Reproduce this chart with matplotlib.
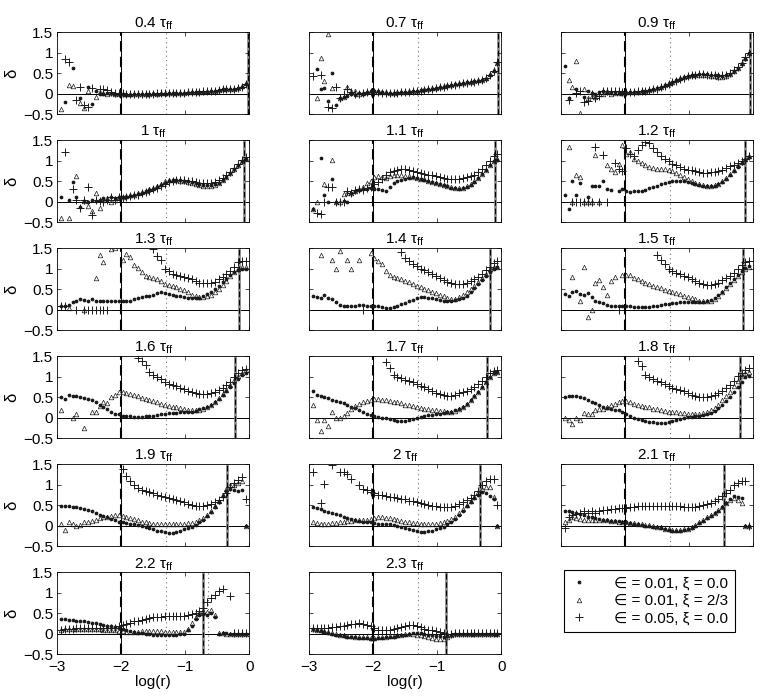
import numpy as np
import matplotlib
matplotlib.use("Agg")
import matplotlib.pyplot as plt
from matplotlib.lines import Line2D

plt.rcParams['font.family'] = ['Liberation Sans', 'DejaVu Sans']
plt.rcParams['mathtext.fontset'] = 'custom'
plt.rcParams['mathtext.rm'] = 'Liberation Sans'

n = np.nan

# log(r) grid of the profiles
LOG_R = [-2.94, -2.88, -2.82, -2.76, -2.70, -2.64, -2.58, -2.52, -2.46, -2.40, -2.34, -2.28, -2.22, -2.16, -2.10, -2.04,
         -1.98, -1.92, -1.86, -1.80, -1.74, -1.68, -1.62, -1.56, -1.50, -1.44, -1.38, -1.32, -1.26, -1.20, -1.14, -1.08,
         -1.02, -0.96, -0.90, -0.84, -0.78, -0.72, -0.66, -0.60, -0.54, -0.48, -0.42, -0.36, -0.30, -0.24, -0.18, -0.12, -0.06]

TIMES = ['0.4', '0.7', '0.9', '1', '1.1', '1.2', '1.3', '1.4', '1.5',
         '1.6', '1.7', '1.8', '1.9', '2', '2.1', '2.2', '2.3']

# position of the outer (grey) marker line in each panel
R_EDGE = [-0.03, -0.05, -0.05, -0.08, -0.10, -0.12, -0.16, -0.18, -0.15,
          -0.22, -0.22, -0.20, -0.35, -0.33, -0.45, -0.73, -0.86]
R_DOT2 = -0.65   # extra dotted line of the 2.2 panel

LABELS = ['\u2208 = 0.01, \u03be = 0.0', '\u2208 = 0.01, \u03be = 2/3', '\u2208 = 0.05, \u03be = 0.0']

# ---- 0.4 tff
DOT_04 = [n, -0.20, n, 0.62, n, -0.12, n, 0.15, -0.25, 0.05, 0.00, -0.02, 0.02, 0.01, 0.00, 0.00,
          -0.02, -0.03, -0.03, -0.02, -0.02, -0.01, -0.01, 0.00, 0.00, 0.00, 0.00, 0.00, 0.01, 0.01, 0.01, 0.01,
          0.02, 0.02, 0.03, 0.03, 0.03, 0.04, 0.04, 0.05, 0.06, 0.08, 0.10, 0.10, 0.10, 0.11, 0.13, 0.17, 0.24]
TRI_04 = [-0.38, n, 0.20, 0.18, n, -0.22, -0.35, 0.06, n, -0.08, 0.04, 0.01, 0.00, 0.02, 0.00, -0.01,
          0.00, -0.02, -0.02, -0.01, -0.01, 0.00, 0.00, 0.00, 0.01, 0.00, 0.01, 0.01, 0.01, 0.02, 0.02, 0.02,
          0.02, 0.03, 0.03, 0.04, 0.04, 0.04, 0.05, 0.06, 0.07, 0.09, 0.10, 0.11, 0.11, 0.12, 0.14, 0.18, 0.25]
PLUS_04 = [n, 0.85, 0.78, n, -0.15, 0.17, -0.28, -0.32, 0.14, n, 0.10, 0.10, 0.08, 0.03, 0.01, 0.02,
           0.01, -0.01, -0.02, -0.02, -0.01, -0.01, 0.00, 0.00, 0.00, 0.01, 0.01, 0.01, 0.01, 0.01, 0.02, 0.02,
           0.02, 0.03, 0.03, 0.03, 0.04, 0.05, 0.05, 0.06, 0.07, 0.09, 0.10, 0.10, 0.11, 0.12, 0.14, 0.17, 0.23]

# ---- 0.7 tff
DOT_07 = [n, 0.60, 0.10, 0.13, -0.18, 0.49, -0.28, -0.10, -0.08, -0.05, 0.00, -0.03, 0.02, 0.00, 0.03, 0.05,
          0.05, 0.05, 0.03, 0.02, 0.02, 0.02, 0.02, 0.03, 0.03, 0.04, 0.05, 0.06, 0.08, 0.09, 0.10, 0.12,
          0.13, 0.15, 0.17, 0.19, 0.21, 0.23, 0.24, 0.25, 0.27, 0.28, 0.30, 0.31, 0.33, 0.36, 0.45, 0.55, 0.75]
TRI_07 = [n, -0.10, 0.87, 0.31, 1.46, 0.13, n, -0.12, -0.08, 0.16, 0.05, 0.06, 0.00, 0.02, 0.04, 0.05,
          0.06, 0.04, 0.03, 0.03, 0.02, 0.02, 0.03, 0.03, 0.04, 0.05, 0.05, 0.07, 0.08, 0.10, 0.11, 0.13,
          0.14, 0.16, 0.18, 0.20, 0.22, 0.23, 0.25, 0.26, 0.27, 0.29, 0.30, 0.32, 0.34, 0.38, 0.47, 0.58, 0.74]
PLUS_07 = [0.43, n, 0.46, n, -0.33, -0.36, 0.15, -0.10, -0.02, 0.10, 0.04, -0.02, 0.00, 0.02, 0.03, 0.04,
           0.04, 0.03, 0.02, 0.02, 0.01, 0.02, 0.02, 0.03, 0.03, 0.04, 0.05, 0.06, 0.07, 0.09, 0.10, 0.12,
           0.13, 0.15, 0.17, 0.19, 0.21, 0.22, 0.24, 0.25, 0.26, 0.28, 0.29, 0.31, 0.33, 0.37, 0.46, 0.56, 0.76]

# ---- 0.9 tff
DOT_09 = [0.66, -0.10, n, 0.10, n, -0.08, 0.05, 0.02, -0.02, 0.03, 0.05, 0.02, 0.04, 0.03, 0.04, 0.03,
          0.02, 0.03, 0.03, 0.04, 0.05, 0.06, 0.08, 0.10, 0.13, 0.16, 0.20, 0.24, 0.28, 0.32, 0.36, 0.40,
          0.43, 0.45, 0.46, 0.47, 0.47, 0.47, 0.46, 0.45, 0.44, 0.43, 0.44, 0.48, 0.54, 0.62, 0.72, 0.85, 0.98]
TRI_09 = [n, 0.33, 0.15, 0.80, -0.47, 0.12, -0.12, -0.05, -0.08, 0.00, -0.02, 0.05, 0.00, 0.01, 0.02, 0.02,
          0.03, 0.03, 0.04, 0.04, 0.05, 0.07, 0.09, 0.11, 0.14, 0.17, 0.21, 0.25, 0.29, 0.33, 0.37, 0.41,
          0.43, 0.44, 0.45, 0.45, 0.45, 0.44, 0.43, 0.42, 0.41, 0.41, 0.43, 0.47, 0.54, 0.63, 0.74, 0.86, 0.99]
PLUS_09 = [n, -0.15, n, 0.02, 0.05, -0.20, -0.18, 0.00, -0.12, -0.05, 0.06, 0.06, 0.07, 0.05, 0.06, 0.04,
           0.03, 0.04, 0.04, 0.05, 0.05, 0.06, 0.08, 0.10, 0.12, 0.15, 0.19, 0.23, 0.27, 0.31, 0.35, 0.39,
           0.42, 0.44, 0.46, 0.47, 0.47, 0.46, 0.45, 0.44, 0.43, 0.44, 0.46, 0.50, 0.57, 0.65, 0.75, 0.88, 1.00]

# ---- 1 tff
DOT_10 = [0.11, n, 0.05, 0.48, 0.12, -0.12, 0.02, 0.00, 0.05, 0.02, 0.03, 0.08, 0.05, 0.10, 0.08, 0.12,
          0.10, 0.12, 0.14, 0.16, 0.18, 0.22, 0.25, 0.28, 0.31, 0.35, 0.40, 0.46, 0.50, 0.52, 0.53, 0.52,
          0.51, 0.50, 0.48, 0.46, 0.43, 0.41, 0.40, 0.40, 0.42, 0.46, 0.52, 0.60, 0.70, 0.80, 0.90, 1.00, 1.05]
TRI_10 = [-0.41, n, -0.40, n, 0.63, n, 0.02, -0.10, -0.22, 0.20, -0.15, 0.05, 0.08, 0.00, 0.05, 0.10,
          0.11, 0.13, 0.15, 0.17, 0.20, 0.23, 0.26, 0.30, 0.34, 0.38, 0.44, 0.50, 0.52, 0.53, 0.52, 0.51,
          0.50, 0.48, 0.46, 0.43, 0.40, 0.38, 0.37, 0.38, 0.40, 0.45, 0.52, 0.60, 0.70, 0.80, 0.90, 1.00, 1.05]
PLUS_10 = [n, 1.20, n, 0.30, 0.03, -0.15, 0.05, 0.35, -0.33, 0.05, 0.02, 0.00, 0.05, 0.10, 0.05, 0.10,
           0.08, 0.10, 0.13, 0.15, 0.17, 0.20, 0.24, 0.27, 0.30, 0.34, 0.38, 0.44, 0.48, 0.51, 0.53, 0.53,
           0.52, 0.51, 0.50, 0.48, 0.46, 0.45, 0.45, 0.46, 0.48, 0.52, 0.58, 0.65, 0.73, 0.83, 0.92, 1.02, 1.08]

# ---- 1.1 tff
DOT_11 = [-0.18, n, 1.07, 0.15, 0.00, 0.54, 0.00, n, 0.02, 0.00, 0.22, 0.25, 0.28, 0.30, 0.30, 0.32,
          0.30, 0.30, 0.28, 0.25, 0.35, 0.45, 0.50, 0.52, 0.55, 0.58, 0.60, 0.58, 0.56, 0.53, 0.50, 0.47,
          0.45, 0.42, 0.40, 0.37, 0.34, 0.32, 0.31, 0.32, 0.35, 0.40, 0.48, 0.58, 0.68, 0.78, 0.88, 0.98, 1.02]
TRI_11 = [-0.18, 0.00, n, 0.43, n, 1.02, 0.00, 0.00, 0.18, 0.20, 0.22, 0.25, 0.30, 0.35, 0.45, 0.50,
          0.60, 0.62, 0.60, 0.58, 0.62, 0.65, 0.66, 0.64, 0.62, 0.62, 0.60, 0.58, 0.56, 0.54, 0.50, 0.48,
          0.46, 0.44, 0.41, 0.38, 0.36, 0.34, 0.33, 0.34, 0.37, 0.42, 0.49, 0.58, 0.68, 0.78, 0.88, 0.98, 1.05]
PLUS_11 = [n, -0.29, -0.31, 0.00, 0.36, 0.36, 0.00, 0.00, 0.00, 0.25, 0.22, 0.28, 0.30, 0.28, 0.32, 0.35,
           0.42, 0.48, 0.55, 0.65, 0.72, 0.75, 0.78, 0.80, 0.80, 0.78, 0.75, 0.72, 0.70, 0.68, 0.66, 0.64,
           0.62, 0.60, 0.58, 0.56, 0.55, 0.55, 0.56, 0.58, 0.60, 0.62, 0.66, 0.72, 0.80, 0.90, 1.00, 1.10, 1.15]

# ---- 1.2 tff
DOT_12 = [0.17, -0.19, 0.50, 0.16, 0.45, n, 0.10, 0.37, 0.37, 0.37, 0.50, 0.30, 0.28, n, 0.25, 0.30,
          0.25, 0.24, 0.25, 0.26, 0.27, 0.28, 0.32, 0.35, 0.38, 0.42, 0.45, 0.48, 0.50, 0.50, 0.50, 0.50,
          0.48, 0.46, 0.44, 0.41, 0.39, 0.37, 0.37, 0.39, 0.43, 0.48, 0.56, 0.65, 0.75, 0.84, 0.93, 1.02, 1.08]
TRI_12 = [n, 1.32, 0.00, 0.64, 0.60, 0.00, 0.00, 0.00, 1.13, 0.00, n, 0.90, 0.80, 0.72, 0.92, 1.38,
          1.15, 1.20, 1.05, 0.98, 0.95, 0.88, 0.84, 0.82, 0.80, 0.80, 0.80, 0.78, 0.74, 0.70, 0.66, 0.60,
          0.55, 0.50, 0.46, 0.42, 0.40, 0.38, 0.38, 0.40, 0.44, 0.50, 0.58, 0.68, 0.78, 0.88, 0.96, 1.04, 1.10]
PLUS_12 = [n, n, 0.00, 0.00, 0.00, 0.00, 0.00, 0.00, 1.32, 0.00, 1.13, 0.00, n, 0.95, 0.80, 0.74,
           1.30, 1.15, 1.10, 1.25, 1.38, 1.45, 1.42, 1.30, 1.20, 1.12, 1.05, 0.98, 0.92, 0.88, 0.84, 0.80,
           0.78, 0.76, 0.74, 0.72, 0.70, 0.70, 0.71, 0.72, 0.75, 0.78, 0.82, 0.86, 0.90, 0.95, 1.00, 1.05, 1.10]

# ---- 1.3 tff
DOT_13 = [0.08, 0.08, 0.12, 0.18, 0.22, 0.25, 0.24, 0.20, 0.25, 0.20, 0.22, 0.20, 0.22, 0.20, 0.22, 0.22,
          0.22, 0.20, 0.22, 0.25, 0.28, 0.30, 0.32, 0.34, 0.36, 0.40, 0.42, 0.40, 0.38, 0.36, 0.34, 0.32,
          0.30, 0.29, 0.28, 0.28, 0.29, 0.32, 0.37, 0.43, 0.50, 0.58, 0.67, 0.75, 0.84, 0.92, 0.97, 1.00, 1.00]
TRI_13 = [n, n, 0.05, n, n, n, 0.00, n, n, 0.78, 1.33, 1.15, n, 1.48, 1.50, n,
          1.20, 1.36, 1.28, 1.08, 1.02, 0.92, 0.83, 0.80, 0.78, 0.75, 0.70, 0.63, 0.60, 0.57, 0.54, 0.50,
          0.47, 0.42, 0.36, 0.32, 0.30, 0.30, 0.32, 0.36, 0.42, 0.50, 0.60, 0.70, 0.82, 0.92, 1.00, 1.04, 1.04]
PLUS_13 = [0.10, 0.08, n, n, 0.00, n, 0.00, 0.00, 0.00, 0.00, 0.00, 0.00, 0.00, n, n, n,
           n, n, n, n, n, n, n, n, 1.49, 1.30, 1.20, 1.00, 0.95, 0.88, 0.84, 0.82,
           0.80, 0.77, 0.75, 0.70, 0.66, 0.64, 0.64, 0.65, 0.68, 0.74, 0.80, 0.86, 0.95, 1.05, 1.15, 1.18, 1.18]

# ---- 1.4 tff
DOT_14 = [0.33, 0.30, 0.28, 0.35, 0.28, 0.25, 0.18, 0.12, 0.10, 0.10, 0.10, 0.10, 0.12, 0.12, 0.10, 0.10,
          0.10, 0.08, 0.06, 0.05, 0.05, 0.07, 0.10, 0.13, 0.16, 0.20, 0.24, 0.28, 0.30, 0.30, 0.29, 0.28,
          0.26, 0.24, 0.22, 0.22, 0.22, 0.23, 0.25, 0.29, 0.34, 0.42, 0.52, 0.62, 0.72, 0.82, 0.92, 1.00, 1.04]
TRI_14 = [n, n, 1.33, n, n, 1.20, 1.00, 1.44, n, 1.20, 1.00, n, 1.20, n, n, 1.37,
          1.25, 1.18, 1.10, 0.95, 0.85, 0.80, 0.78, 0.74, 0.70, 0.67, 0.62, 0.58, 0.55, 0.51, 0.48, 0.44,
          0.40, 0.36, 0.32, 0.28, 0.26, 0.27, 0.30, 0.36, 0.43, 0.50, 0.58, 0.67, 0.76, 0.86, 0.98, 1.03, 1.05]
PLUS_14 = [n, n, n, n, n, n, n, n, n, n, n, n, n, 0.00, n, n,
           n, n, n, n, n, n, n, 1.40, 1.25, 1.18, 1.12, 1.06, 1.00, 0.96, 0.91, 0.87,
           0.82, 0.77, 0.72, 0.68, 0.65, 0.63, 0.62, 0.63, 0.66, 0.70, 0.74, 0.80, 0.88, 0.97, 1.05, 1.14, 1.18]

# ---- 1.5 tff
DOT_15 = [0.38, 0.33, 0.42, 0.45, 0.38, 0.36, 0.40, 0.30, 0.22, 0.18, 0.15, 0.12, 0.10, 0.10, 0.10, 0.10,
          0.10, 0.08, 0.07, 0.06, 0.06, 0.06, 0.07, 0.08, 0.10, 0.12, 0.13, 0.14, 0.16, 0.17, 0.18, 0.18,
          0.18, 0.18, 0.18, 0.18, 0.19, 0.20, 0.23, 0.28, 0.35, 0.44, 0.55, 0.65, 0.75, 0.85, 0.95, 1.02, 1.06]
TRI_15 = [n, n, 0.80, n, 0.22, 1.04, -0.19, 0.00, 0.65, 0.72, 0.55, 0.35, 0.70, 0.80, n, 0.85,
          0.84, 0.85, 0.78, 0.75, 0.70, 0.66, 0.62, 0.58, 0.55, 0.52, 0.49, 0.46, 0.43, 0.40, 0.37, 0.34,
          0.31, 0.28, 0.25, 0.22, 0.20, 0.20, 0.22, 0.27, 0.34, 0.42, 0.52, 0.62, 0.72, 0.82, 0.92, 1.00, 1.05]
PLUS_15 = [n, n, n, n, n, n, n, n, n, n, n, n, n, n, 0.00, n,
           n, n, n, n, n, n, n, n, 1.33, 1.22, 1.10, 0.98, 0.93, 0.90, 0.87, 0.83,
           0.79, 0.74, 0.70, 0.66, 0.62, 0.60, 0.60, 0.62, 0.66, 0.72, 0.76, 0.82, 0.90, 1.00, 1.08, 1.15, 1.18]

# ---- 1.6 tff
DOT_16 = [0.50, 0.45, 0.55, 0.53, 0.52, 0.50, 0.48, 0.45, 0.42, 0.38, 0.32, 0.25, 0.20, 0.15, 0.10, 0.08,
          0.05, 0.04, 0.03, 0.02, 0.02, 0.02, 0.03, 0.04, 0.05, 0.07, 0.09, 0.10, 0.11, 0.12, 0.12, 0.13,
          0.14, 0.14, 0.15, 0.17, 0.20, 0.23, 0.27, 0.32, 0.38, 0.46, 0.55, 0.65, 0.75, 0.85, 0.95, 1.05, 1.10]
TRI_16 = [0.18, n, n, 0.00, 0.10, n, -0.25, n, 0.14, 0.14, 0.28, 0.38, 0.35, 0.50, 0.55, 0.62,
          0.62, 0.60, 0.57, 0.55, 0.52, 0.49, 0.46, 0.43, 0.40, 0.37, 0.34, 0.31, 0.29, 0.27, 0.25, 0.23,
          0.21, 0.19, 0.18, 0.18, 0.19, 0.21, 0.25, 0.31, 0.38, 0.47, 0.57, 0.68, 0.80, 0.92, 1.02, 1.10, 1.15]
PLUS_16 = [n] * 16 + [
           n, n, n, n, 1.45, 1.38, 1.28, 1.12, 1.05, 1.00, 0.95, 0.86, 0.83, 0.80, 0.76, 0.72,
           0.69, 0.66, 0.63, 0.60, 0.58, 0.57, 0.57, 0.59, 0.62, 0.67, 0.72, 0.79, 0.88, 0.98, 1.08, 1.17, 1.18]

# ---- 1.7 tff
DOT_17 = [0.65, 0.56, 0.52, 0.50, 0.47, 0.44, 0.41, 0.38, 0.35, 0.31, 0.27, 0.23, 0.18, 0.14, 0.10, 0.06,
          0.03, 0.01, 0.00, -0.02, -0.03, -0.05, -0.07, -0.08, -0.07, -0.05, -0.03, 0.00, 0.02, 0.04, 0.06, 0.07,
          0.08, 0.10, 0.11, 0.13, 0.15, 0.18, 0.22, 0.27, 0.33, 0.42, 0.52, 0.62, 0.75, 0.88, 0.98, 1.08, 1.12]
TRI_17 = [0.30, -0.05, -0.32, -0.05, -0.20, 0.15, -0.02, 0.00, 0.05, 0.12, 0.20, 0.28, 0.33, 0.37, 0.41, 0.44,
          0.45, 0.45, 0.44, 0.42, 0.41, 0.39, 0.37, 0.35, 0.32, 0.30, 0.28, 0.26, 0.24, 0.22, 0.20, 0.19,
          0.18, 0.17, 0.16, 0.15, 0.15, 0.17, 0.21, 0.27, 0.34, 0.43, 0.53, 0.63, 0.75, 0.88, 1.00, 1.10, 1.12]
PLUS_17 = [n] * 16 + [
           n, n, n, 1.35, 1.22, 1.05, 1.00, 0.96, 0.93, 0.90, 0.86, 0.82, 0.78, 0.74, 0.70, 0.66,
           0.61, 0.58, 0.56, 0.54, 0.54, 0.56, 0.59, 0.62, 0.66, 0.70, 0.75, 0.82, 0.90, 1.00, 1.08, 1.14, 1.15]

# ---- 1.8 tff
DOT_18 = [0.50, 0.52, 0.52, 0.52, 0.50, 0.47, 0.43, 0.39, 0.35, 0.30, 0.26, 0.23, 0.21, 0.19, 0.18, 0.15,
          0.10, 0.05, 0.00, -0.04, -0.06, -0.08, -0.10, -0.11, -0.12, -0.12, -0.12, -0.11, -0.09, -0.06, -0.03, 0.00,
          0.01, 0.02, 0.04, 0.05, 0.07, 0.09, 0.12, 0.17, 0.23, 0.31, 0.40, 0.50, 0.62, 0.75, 0.88, 0.98, 1.02]
TRI_18 = [0.00, -0.05, -0.15, 0.00, -0.05, 0.12, 0.08, 0.10, 0.18, 0.20, 0.22, 0.26, 0.30, 0.34, 0.38, 0.40,
          0.40, 0.37, 0.34, 0.32, 0.29, 0.27, 0.25, 0.22, 0.20, 0.18, 0.16, 0.15, 0.14, 0.13, 0.12, 0.11,
          0.10, 0.10, 0.10, 0.10, 0.11, 0.14, 0.18, 0.24, 0.32, 0.42, 0.52, 0.63, 0.76, 0.90, 1.02, 1.10, 1.12]
PLUS_18 = [n] * 16 + [
           n, n, n, 1.38, 1.25, 1.05, 1.00, 0.94, 0.90, 0.86, 0.82, 0.78, 0.73, 0.70, 0.67, 0.64,
           0.60, 0.56, 0.53, 0.51, 0.50, 0.50, 0.52, 0.55, 0.59, 0.64, 0.72, 0.80, 0.90, 1.02, 1.10, 1.16, 1.20]

# ---- 1.9 tff
DOT_19 = [0.48, 0.47, 0.47, 0.46, 0.45, 0.43, 0.41, 0.38, 0.35, 0.31, 0.27, 0.23, 0.20, 0.16, 0.13, 0.10,
          0.08, 0.06, 0.04, 0.03, 0.01, 0.00, -0.03, -0.06, -0.09, -0.12, -0.14, -0.16, -0.17, -0.17, -0.15, -0.12,
          -0.09, -0.06, -0.02, 0.02, 0.08, 0.15, 0.24, 0.34, 0.46, 0.58, 0.72, 0.85, 0.90, 0.86, 0.85, 0.88, 0.00]
TRI_19 = [0.05, -0.10, 0.10, 0.05, 0.00, 0.02, 0.08, 0.10, 0.12, 0.15, 0.18, 0.20, 0.22, 0.24, 0.25, 0.25,
          0.24, 0.22, 0.19, 0.16, 0.13, 0.10, 0.08, 0.06, 0.05, 0.05, 0.05, 0.05, 0.05, 0.05, 0.05, 0.05,
          0.05, 0.06, 0.07, 0.09, 0.13, 0.19, 0.27, 0.36, 0.47, 0.60, 0.75, 0.90, 1.00, 0.98, 1.05, 1.10, 0.00]
PLUS_19 = [n] * 16 + [
           1.38, 1.22, 1.10, 1.00, 0.92, 0.88, 0.85, 0.82, 0.80, 0.76, 0.72, 0.69, 0.67, 0.65, 0.63, 0.60,
           0.57, 0.54, 0.51, 0.49, 0.48, 0.48, 0.50, 0.53, 0.57, 0.62, 0.70, 0.80, 0.95, 1.05, 1.12, 1.18, 0.65]

# ---- 2 tff
DOT_20 = [0.45, 0.42, 0.40, 0.37, 0.34, 0.31, 0.28, 0.25, 0.22, 0.19, 0.16, 0.14, 0.12, 0.10, 0.09, 0.08,
          0.06, 0.05, 0.05, 0.04, 0.03, 0.01, 0.00, -0.03, -0.05, -0.08, -0.11, -0.14, -0.15, -0.15, -0.14, -0.12,
          -0.09, -0.06, -0.02, 0.03, 0.09, 0.17, 0.26, 0.36, 0.48, 0.58, 0.67, 0.76, 0.82, 0.80, 0.72, 0.65, 0.00]
TRI_20 = [0.10, 0.06, 0.05, 0.05, 0.05, 0.06, 0.07, 0.08, 0.10, 0.11, 0.12, 0.13, 0.14, 0.15, 0.15, 0.17,
          0.19, 0.20, 0.20, 0.19, 0.18, 0.16, 0.14, 0.12, 0.10, 0.09, 0.07, 0.06, 0.05, 0.05, 0.05, 0.05,
          0.05, 0.06, 0.08, 0.11, 0.16, 0.22, 0.30, 0.40, 0.50, 0.60, 0.70, 0.82, 0.90, 0.95, 0.95, 0.70, 0.00]
PLUS_20 = [1.30, n, 0.55, 1.02, n, 1.48, n, 1.30, 1.30, 1.27, 1.15, n, 1.00, 0.90, 0.86, 0.82,
           0.80, 0.76, 0.74, 0.72, 0.70, 0.69, 0.68, 0.66, 0.64, 0.61, 0.59, 0.57, 0.55, 0.53, 0.51, 0.49,
           0.48, 0.46, 0.45, 0.45, 0.46, 0.49, 0.53, 0.57, 0.62, 0.68, 0.75, 0.85, 0.98, 1.10, 1.15, 1.15, 0.50]

# ---- 2.1 tff
DOT_21 = [0.35, 0.35, 0.33, 0.30, 0.28, 0.25, 0.22, 0.20, 0.18, 0.16, 0.15, 0.13, 0.12, 0.12, 0.11, 0.10,
          0.08, 0.06, 0.05, 0.03, 0.02, 0.00, -0.01, -0.02, -0.04, -0.06, -0.09, -0.11, -0.12, -0.12, -0.12, -0.11,
          -0.09, -0.05, 0.00, 0.06, 0.12, 0.18, 0.24, 0.30, 0.36, 0.45, 0.55, 0.65, 0.72, 0.70, 0.68, 0.00, 0.00]
TRI_21 = [0.10, 0.15, 0.20, 0.18, 0.16, 0.15, 0.15, 0.15, 0.15, 0.15, 0.14, 0.13, 0.12, 0.11, 0.10, 0.09,
          0.08, 0.07, 0.06, 0.05, 0.04, 0.02, 0.01, 0.00, -0.02, -0.04, -0.07, -0.09, -0.10, -0.10, -0.10, -0.09,
          -0.07, -0.03, 0.02, 0.08, 0.14, 0.20, 0.26, 0.32, 0.38, 0.46, 0.55, 0.62, 0.68, 0.62, 0.55, 0.00, 0.00]
PLUS_21 = [-0.05, 0.20, 0.25, 0.28, 0.30, 0.35, 0.30, 0.35, 0.32, 0.35, 0.38, 0.38, 0.40, 0.40, 0.42, 0.42,
           0.44, 0.45, 0.46, 0.47, 0.47, 0.48, 0.48, 0.48, 0.48, 0.48, 0.48, 0.48, 0.48, 0.47, 0.47, 0.46,
           0.45, 0.45, 0.46, 0.48, 0.50, 0.53, 0.56, 0.60, 0.65, 0.72, 0.80, 0.88, 0.98, 1.05, 1.10, 1.08, 0.00]

# ---- 2.2 tff
DOT_22 = [0.36, 0.35, 0.34, 0.33, 0.32, 0.31, 0.30, 0.28, 0.27, 0.25, 0.24, 0.22, 0.20, 0.19, 0.17, 0.15,
          0.12, 0.09, 0.06, 0.04, 0.02, 0.01, 0.00, -0.01, -0.02, -0.02, -0.02, -0.02, -0.02, -0.02, -0.02, -0.01,
          0.00, 0.08, 0.20, 0.35, 0.45, 0.48, 0.45, 0.50, 0.40, 0.00, 0.02, 0.01, 0.00, 0.00, 0.00, 0.00, 0.00]
TRI_22 = [0.10, 0.11, 0.12, 0.12, 0.12, 0.12, 0.12, 0.12, 0.12, 0.11, 0.11, 0.10, 0.10, 0.09, 0.08, 0.07,
          0.06, 0.05, 0.05, 0.05, 0.05, 0.06, 0.06, 0.06, 0.06, 0.06, 0.06, 0.05, 0.05, 0.04, 0.04, 0.04,
          0.05, 0.12, 0.25, 0.40, 0.50, 0.55, 0.52, 0.58, 0.45, 0.02, 0.01, 0.00, 0.00, 0.00, 0.00, 0.00, 0.00]
PLUS_22 = [0.10, 0.11, 0.12, 0.12, 0.13, 0.13, 0.13, 0.13, 0.13, 0.13, 0.13, 0.13, 0.13, 0.14, 0.15, 0.18,
           0.21, 0.24, 0.27, 0.30, 0.32, 0.34, 0.36, 0.38, 0.40, 0.41, 0.42, 0.43, 0.43, 0.43, 0.43, 0.43,
           0.44, 0.45, 0.47, 0.50, 0.55, 0.62, 0.78, 0.86, 0.95, 1.03, 1.09, n, 0.93, 0.03, 0.02, 0.02, 0.02]

# ---- 2.3 tff
DOT_23 = [0.12, 0.09, 0.06, 0.04, 0.02, 0.00, -0.02, -0.04, -0.06, -0.07, -0.08, -0.09, -0.10, -0.10, -0.11, -0.12,
          -0.12, -0.11, -0.10, -0.09, -0.08, -0.07, -0.05, -0.04, -0.02, 0.00, 0.01, 0.02, 0.01, 0.00, -0.02, -0.03,
          -0.05, -0.06, -0.08, -0.05, -0.02, 0.00, 0.00, 0.00, 0.00, 0.00, 0.00, 0.00, 0.00, 0.00, 0.00, 0.00, 0.00]
TRI_23 = [0.12, 0.10, 0.08, 0.06, 0.04, 0.02, 0.00, -0.02, -0.04, -0.05, -0.06, -0.07, -0.08, -0.08, -0.09, -0.10,
          -0.10, -0.09, -0.08, -0.07, -0.06, -0.05, -0.04, -0.02, -0.01, 0.00, 0.00, -0.02, -0.04, -0.06, -0.08, -0.10,
          -0.12, -0.12, -0.12, -0.08, -0.03, 0.00, 0.00, 0.00, 0.00, 0.00, 0.00, 0.00, 0.00, 0.00, 0.00, 0.00, 0.00]
PLUS_23 = [0.15, 0.15, 0.15, 0.15, 0.15, 0.16, 0.17, 0.19, 0.20, 0.22, 0.23, 0.24, 0.25, 0.24, 0.22, 0.18,
           0.14, 0.10, 0.08, 0.08, 0.09, 0.11, 0.13, 0.16, 0.19, 0.21, 0.22, 0.20, 0.16, 0.12, 0.10, 0.08,
           0.06, 0.04, 0.02, 0.00, 0.00, 0.01, 0.01, 0.01, 0.01, 0.01, 0.01, 0.01, 0.01, 0.01, 0.01, 0.01, 0.01]

DOT = [DOT_04, DOT_07, DOT_09, DOT_10, DOT_11, DOT_12, DOT_13, DOT_14, DOT_15,
       DOT_16, DOT_17, DOT_18, DOT_19, DOT_20, DOT_21, DOT_22, DOT_23]
TRI = [TRI_04, TRI_07, TRI_09, TRI_10, TRI_11, TRI_12, TRI_13, TRI_14, TRI_15,
       TRI_16, TRI_17, TRI_18, TRI_19, TRI_20, TRI_21, TRI_22, TRI_23]
PLUS = [PLUS_04, PLUS_07, PLUS_09, PLUS_10, PLUS_11, PLUS_12, PLUS_13, PLUS_14, PLUS_15,
        PLUS_16, PLUS_17, PLUS_18, PLUS_19, PLUS_20, PLUS_21, PLUS_22, PLUS_23]

FS = 11
MK = '0.1'

fig, axes = plt.subplots(6, 3, figsize=(7.63, 6.96), dpi=100)
fig.subplots_adjust(left=0.075, right=0.987, top=0.954, bottom=0.060, wspace=0.31, hspace=0.317)
axes = axes.ravel()
x = np.array(LOG_R)

for k in range(len(TIMES)):
    ax = axes[k]
    ax.axhline(0, color='k', lw=0.7, zorder=1)
    ax.axvline(-2, color='k', lw=0.7, zorder=1)
    ax.axvline(-2, color='k', lw=1.5, ls=(0, (5, 2.5)), zorder=1)
    ax.axvline(-1.3, color='0.45', lw=0.8, ls=(0, (1, 3)), zorder=1)
    ax.axvline(R_EDGE[k], color='0.55', lw=2.0, zorder=1)
    ax.axvline(R_EDGE[k], color='k', lw=0.8, ls=(0, (5, 2.5)), zorder=1)
    if TIMES[k] == '2.2':
        ax.axvline(R_DOT2, color='0.45', lw=0.8, ls=(0, (1, 3)), zorder=1)

    d = np.array(DOT[k], dtype=float)
    t = np.array(TRI[k], dtype=float)
    p = np.array(PLUS[k], dtype=float)
    ax.plot(x[:len(d)], d, ls='none', marker='.', ms=3.4, color=MK, zorder=3)
    ax.plot(x[:len(t)], t, ls='none', marker='^', ms=3.3, mfc='none', mec=MK, mew=0.5, zorder=3)
    ax.plot(x[:len(p)], p, ls='none', marker='+', ms=5.2, mec=MK, mew=0.7, zorder=3)

    ax.set_xlim(-3, 0)
    ax.set_ylim(-0.5, 1.5)
    ax.set_xticks([-3, -2, -1, 0])
    ax.set_yticks([-0.5, 0, 0.5, 1, 1.5])
    ax.set_yticklabels(['\u22120.5', '0', '0.5', '1', '1.5'])
    ax.set_xticklabels(['\u22123', '\u22122', '\u22121', '0'])
    ax.tick_params(direction='in', top=True, right=True, length=3, width=0.5, labelsize=FS)
    ax.tick_params(axis='x', pad=4)
    ax.tick_params(axis='y', pad=3)
    for s in ax.spines.values():
        s.set_linewidth(0.6)
    ax.set_title(TIMES[k] + ' \u03c4$_{\\rm ff}$', fontsize=FS, pad=3)

    if k % 3 == 0:
        ax.set_ylabel('\u03b4', fontsize=FS + 1, labelpad=3)
    else:
        ax.tick_params(labelleft=False)
    if k < 15:
        ax.tick_params(labelbottom=False)
    else:
        ax.set_xlabel('log(r)', fontsize=FS, labelpad=1)

axes[17].axis('off')

handles = [
    Line2D([], [], ls='none', marker='.', ms=3.4, color=MK),
    Line2D([], [], ls='none', marker='^', ms=3.3, mfc='none', mec=MK, mew=0.5),
    Line2D([], [], ls='none', marker='+', ms=5.2, mec=MK, mew=0.7),
]
leg = fig.legend(handles, LABELS, loc='upper left', bbox_to_anchor=(0.739, 0.181),
                 fontsize=FS, frameon=True, fancybox=False, edgecolor='k', framealpha=1,
                 handlelength=1.2, handletextpad=1.7, borderpad=0.4, labelspacing=0.25,
                 borderaxespad=0)
leg.get_frame().set_linewidth(0.8)

fig.savefig('out.png', dpi=100)
